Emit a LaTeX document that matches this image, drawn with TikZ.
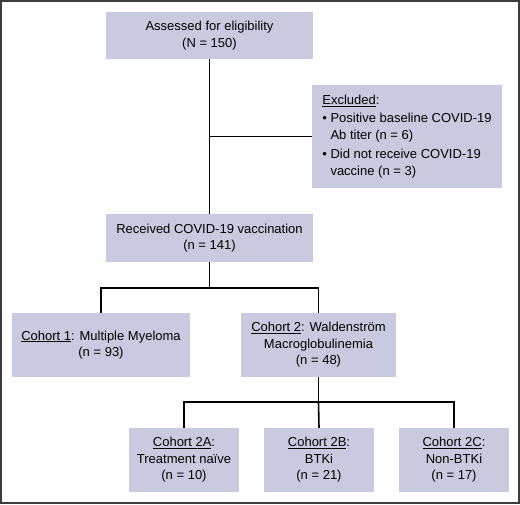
\documentclass[tikz,border=0pt]{standalone}
\usepackage{fontspec}
\setmainfont{Liberation Sans}
\usepackage{xcolor}
\usetikzlibrary{calc}
\definecolor{boxfill}{RGB}{201,202,224}
\definecolor{framegray}{RGB}{60,60,60}
\tikzset{
  flowbox/.style={fill=boxfill, inner sep=0pt, align=center,
    font=\fontsize{13}{16.5}\selectfont, minimum height=#1},
  flowbox/.default=64pt,
  link/.style={line width=1.6pt, black}
}
\begin{document}
\begin{tikzpicture}[x=1pt,y=-1pt]
\useasboundingbox (0,0) rectangle (520,504);
\draw[framegray, line width=1.6pt] (0.8,0.8) rectangle (519.2,503.2);
% top of the chart
\node[flowbox=47pt, minimum width=207pt] (assess) at (209.5,35.5)
  {Assessed for eligibility\\(N = 150)};
\node[flowbox=103pt, minimum width=190pt, align=left] (excl) at (407,136.5)
  {\underline{Excluded}:\\[2pt]
   • Positive baseline COVID-19\\
   \phantom{• }Ab titer (n = 6)\\[3pt]
   • Did not receive COVID-19\\
   \phantom{• }vaccine (n = 3)};
\node[flowbox=48pt, minimum width=207pt] (received) at (209.5,238)
  {Received COVID-19 vaccination\\(n = 141)};
% cohorts
\node[flowbox, minimum width=178pt] (coh1) at (101,345)
  {\underline{Cohort 1}: Multiple Myeloma\\(n = 93)};
\node[flowbox, minimum width=155pt] (coh2) at (318.5,345)
  {\underline{Cohort 2}: Waldenstr\"om\\Macroglobulinemia\\(n = 48)};
\node[flowbox, minimum width=110pt] (coh2a) at (184,460)
  {\underline{Cohort 2A}:\\Treatment na\"ive\\(n = 10)};
\node[flowbox, minimum width=110pt] (coh2b) at (319,460)
  {\underline{Cohort 2B}:\\BTKi\\(n = 21)};
\node[flowbox, minimum width=110pt] (coh2c) at (454,460)
  {\underline{Cohort 2C}:\\Non-BTKi\\(n = 17)};
\coordinate (split1) at (209.5,288);
\coordinate (split2) at (318.5,402);
% connectors
\draw[link] (assess.south) -- (received.north);
\draw[link] (assess.south |- excl.west) -- (excl.west);
\draw[link] (received.south) -- (split1);
\draw[link] (coh1.north) |- (split1) -| (coh2.north);
\draw[link] (coh2.south) -- (split2);
\draw[link] (coh2a.north) |- (split2) -| (coh2c.north);
\draw[link] (split2) -- (coh2b.north);
\end{tikzpicture}
\end{document}
